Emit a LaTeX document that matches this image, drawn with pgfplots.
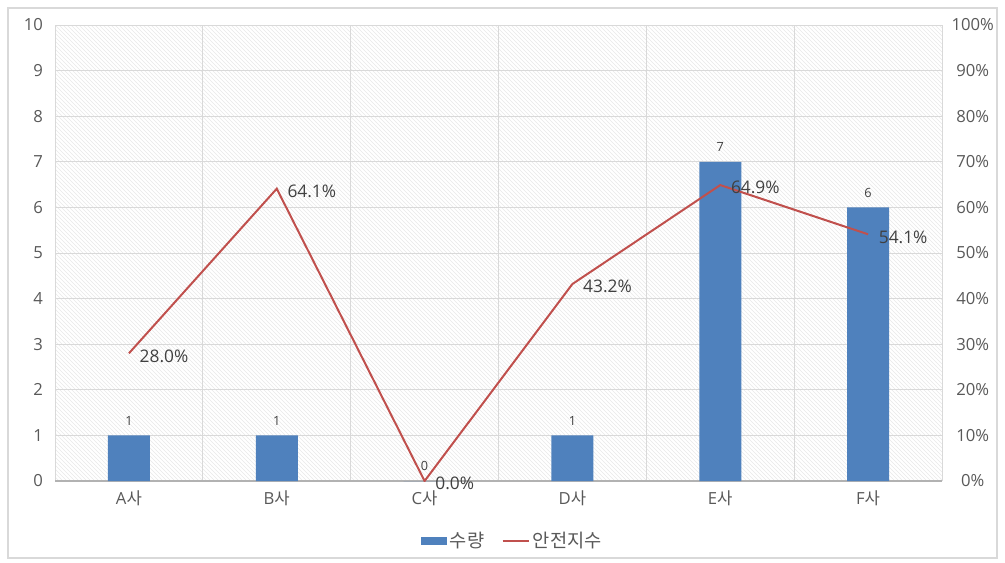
\documentclass[border=0pt]{standalone}
\usepackage{pgfplots}
\pgfplotsset{compat=1.18}
\usepackage{fontspec}
\setmainfont{Open Sans}
\newfontfamily\kr{Noto Sans CJK KR}
\usetikzlibrary{patterns}
\definecolor{barblue}{HTML}{4F81BD}
\definecolor{linered}{HTML}{C0504D}
\definecolor{tickgray}{HTML}{595959}
\definecolor{labgray}{HTML}{404040}
\definecolor{gridgray}{HTML}{D9D9D9}
\begin{document}
\begin{tikzpicture}
\path[use as bounding box] (0,0) rectangle (753.75pt,421.5pt);
\draw[black!15, line width=0.8pt] (6pt,3pt) rectangle (747.75pt,415.5pt);
\begin{axis}[
  at={(41.25pt,60.75pt)}, anchor=south west,
  scale only axis, width=665.25pt, height=342pt,
  xmin=-0.5, xmax=5.5, ymin=0, ymax=10,
  xtick={0,...,5},
  xticklabels={A{\kr 사},B{\kr 사},C{\kr 사},D{\kr 사},E{\kr 사},F{\kr 사}},
  minor xtick={-0.5,0.5,...,5.5},
  ytick={0,...,10},
  extra y ticks={0}, extra y tick labels={},
  extra y tick style={grid style={black!30, line width=0.8pt}},
  xmajorgrids=false, xminorgrids=true, ymajorgrids=true,
  grid style={gridgray, line width=0.6pt},
  minor grid style={gridgray, line width=0.6pt},
  axis line style={draw=none},
  major tick length=0pt, minor tick length=0pt,
  tick style={draw=none},
  axis background/.style={pattern=north west lines, pattern color=black!9},
  /pgf/number format/assume math mode=true,
  tick label style={font=\fontsize{12.5}{14}\selectfont, text=tickgray},
  yticklabel style={xshift=-5.5pt},
  xticklabel style={yshift=-4pt},
  legend style={at={(0.516,-0.1316)}, anchor=center, draw=none, fill=none,
    legend columns=2, font=\kr\fontsize{14}{16}\selectfont, text=tickgray,
    /tikz/every even column/.append style={column sep=11pt},
    inner sep=0pt},
  legend cell align=left,
]
\addplot[ybar, bar width=31.5pt, bar shift=0pt, fill=barblue, draw=none,
  nodes near coords,
  nodes near coords style={font=\fontsize{9.5}{10}\selectfont, text=labgray, anchor=south, yshift=4pt},
  area legend,
  legend image code/.code={\fill[barblue] (0pt,-3pt) rectangle (19.5pt,3pt);}
] coordinates {(0,1) (1,1) (2,0) (3,1) (4,7) (5,6)};
\addlegendentry{수량}
\addlegendimage{linered, line width=1.5pt, legend image code/.code={\draw[linered, line width=1.5pt] (0pt,0pt) -- (20pt,0pt);}}
\addlegendentry{안전지수}
\end{axis}
\begin{axis}[
  at={(41.25pt,60.75pt)}, anchor=south west,
  scale only axis, width=665.25pt, height=342pt,
  xmin=-0.5, xmax=5.5, ymin=0, ymax=100,
  hide x axis,
  axis y line*=right,
  axis line style={draw=none},
  ytick={0,10,...,100},
  yticklabel={\pgfmathprintnumber{\tick}\%},
  major tick length=0pt, tick style={draw=none},
  /pgf/number format/assume math mode=true,
  tick label style={font=\fontsize{12.5}{14}\selectfont, text=tickgray},
  yticklabel style={anchor=center, xshift=23pt},
]
\addplot[linered, line width=1.5pt, mark=none,
  nodes near coords={\pgfmathprintnumber[fixed,fixed zerofill,precision=1]{\pgfplotspointmeta}\%},
  nodes near coords style={font=\fontsize{13}{15}\selectfont, text=labgray, anchor=west, xshift=4pt, yshift=-2pt},
] coordinates {(0,28.0) (1,64.1) (2,0.0) (3,43.2) (4,64.9) (5,54.1)};
\end{axis}
\end{tikzpicture}
\end{document}
